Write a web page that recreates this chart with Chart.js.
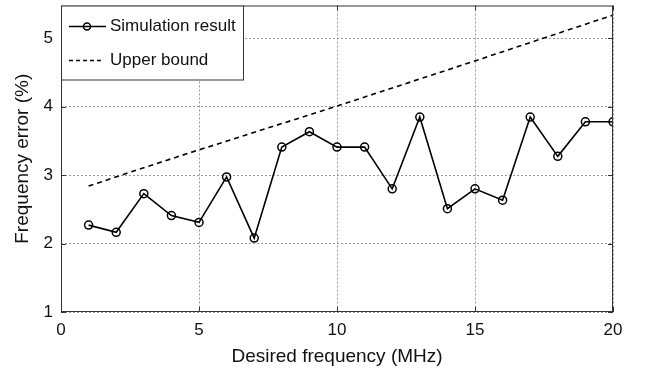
<!DOCTYPE html>
<html>
<head>
<meta charset="utf-8">
<script src="https://cdn.jsdelivr.net/npm/chart.js@4"></script>
<style>
  html, body { margin: 0; padding: 0; background: #fff; }
  #wrap { width: 646px; height: 371px; position: relative; }
</style>
</head>
<body>
<div id="wrap"><canvas id="freqChart"></canvas></div>
<script>
// Values
const freqMHz = [1, 2, 3, 4, 5, 6, 7, 8, 9, 10, 11, 12, 13, 14, 15, 16, 17, 18, 19, 20];
const simResult = [2.27, 2.165, 2.73, 2.41, 2.31, 2.975, 2.08, 3.41, 3.635, 3.41,
                   3.41, 2.80, 3.85, 2.51, 2.80, 2.635, 3.85, 3.275, 3.78, 3.78];
const boundFreq = [1, 3, 5, 10, 15, 20];
const upperBound = [2.84, 3.11, 3.37, 4.01, 4.67, 5.34];
const xTicks = [0, 5, 10, 15, 20];
const yTicks = [1, 2, 3, 4, 5];

const fontFamily = "'Liberation Sans', Arial, sans-serif";
const axisColor = "#333";

// box around plot, inward tick marks and the legend (matlab style)
const framePlugin = {
    id: "frame",
    afterDraw(chart) {
        const ctx = chart.ctx;
        const a = chart.chartArea;
        const xs = chart.scales.x, ys = chart.scales.y;
        ctx.save();
        ctx.strokeStyle = axisColor;
        ctx.lineWidth = 1;
        ctx.setLineDash([]);
        ctx.strokeRect(a.left + 0.5, a.top + 0.5, a.right - a.left - 1, a.bottom - a.top - 1);

        ctx.beginPath();
        xTicks.forEach(v => {
            const px = Math.round(xs.getPixelForValue(v)) + 0.5;
            ctx.moveTo(px, a.bottom); ctx.lineTo(px, a.bottom - 5);
            ctx.moveTo(px, a.top); ctx.lineTo(px, a.top + 5);
        });
        yTicks.forEach(v => {
            const py = Math.round(ys.getPixelForValue(v)) + 0.5;
            ctx.moveTo(a.left, py); ctx.lineTo(a.left + 5, py);
            ctx.moveTo(a.right, py); ctx.lineTo(a.right - 5, py);
        });
        ctx.stroke();

        // legend box
        const lx = a.left, ly = a.top, lw = 182, lh = 74;
        ctx.fillStyle = "#fff";
        ctx.fillRect(lx, ly, lw, lh);
        ctx.strokeStyle = axisColor;
        ctx.strokeRect(lx + 0.5, ly + 0.5, lw, lh);

        const ds = chart.data.datasets;
        const row1 = ly + 21, row2 = ly + 55;
        ctx.strokeStyle = "#000";
        ctx.lineWidth = 1.5;
        ctx.beginPath();
        ctx.moveTo(lx + 8, row1); ctx.lineTo(lx + 45, row1);
        ctx.stroke();
        ctx.beginPath();
        ctx.arc(lx + 26, row1, 3.5, 0, Math.PI * 2);
        ctx.stroke();
        ctx.setLineDash([4, 3]);
        ctx.beginPath();
        ctx.moveTo(lx + 8, row2); ctx.lineTo(lx + 43, row2);
        ctx.stroke();
        ctx.setLineDash([]);

        ctx.fillStyle = "#111";
        ctx.font = "17px " + fontFamily;
        ctx.textBaseline = "middle";
        ctx.textAlign = "left";
        ctx.fillText(ds[0].label, lx + 49, row1);
        ctx.fillText(ds[1].label, lx + 49, row2);
        ctx.restore();
    }
};

const ctx = document.getElementById("freqChart").getContext("2d");
new Chart(ctx, {
    type: "line",
    data: {
        datasets: [{
            label: "Simulation result",
            data: freqMHz.map((f, i) => ({ x: f, y: simResult[i] })),
            borderColor: "#000",
            borderWidth: 1.6,
            pointRadius: 4,
            pointBorderWidth: 1.5,
            pointBorderColor: "#000",
            pointBackgroundColor: "rgba(0,0,0,0)",
            tension: 0
        }, {
            label: "Upper bound",
            data: boundFreq.map((f, i) => ({ x: f, y: upperBound[i] })),
            borderColor: "#000",
            borderWidth: 1.6,
            borderDash: [5, 4],
            pointRadius: 0,
            tension: 0
        }]
    },
    options: {
        responsive: true,
        maintainAspectRatio: false,
        animation: false,
        events: [],
        layout: { padding: { top: 4, right: 33, left: 0, bottom: 0 } },
        plugins: {
            legend: { display: false },
            tooltip: { enabled: false }
        },
        scales: {
            x: {
                type: "linear",
                min: 0,
                max: 20,
                afterBuildTicks: s => { s.ticks = xTicks.map(v => ({ value: v })); },
                afterFit: s => { s.height = 59; s.paddingLeft = 0; s.paddingRight = 0; },
                grid: { color: "#999", drawTicks: false, lineWidth: 1 },
                border: { display: false, dash: [2, 2] },
                ticks: { color: "#111", padding: 8, font: { size: 17, family: fontFamily } },
                title: {
                    display: true,
                    text: "Desired frequency (MHz)",
                    color: "#111",
                    padding: { top: 0, bottom: 3 },
                    font: { size: 19, family: fontFamily }
                }
            },
            y: {
                min: 1,
                max: 5.48,
                afterBuildTicks: s => { s.ticks = yTicks.map(v => ({ value: v })); },
                afterFit: s => { s.width = 61; s.paddingTop = 0; s.paddingBottom = 0; },
                grid: { color: "#999", drawTicks: false, lineWidth: 1 },
                border: { display: false, dash: [2, 2] },
                ticks: { color: "#111", padding: 8, font: { size: 17, family: fontFamily } },
                title: {
                    display: true,
                    text: "Frequency error (%)",
                    color: "#111",
                    padding: { top: 11, bottom: 11 },
                    font: { size: 19, family: fontFamily }
                }
            }
        }
    },
    plugins: [framePlugin]
});
</script>
</body>
</html>
